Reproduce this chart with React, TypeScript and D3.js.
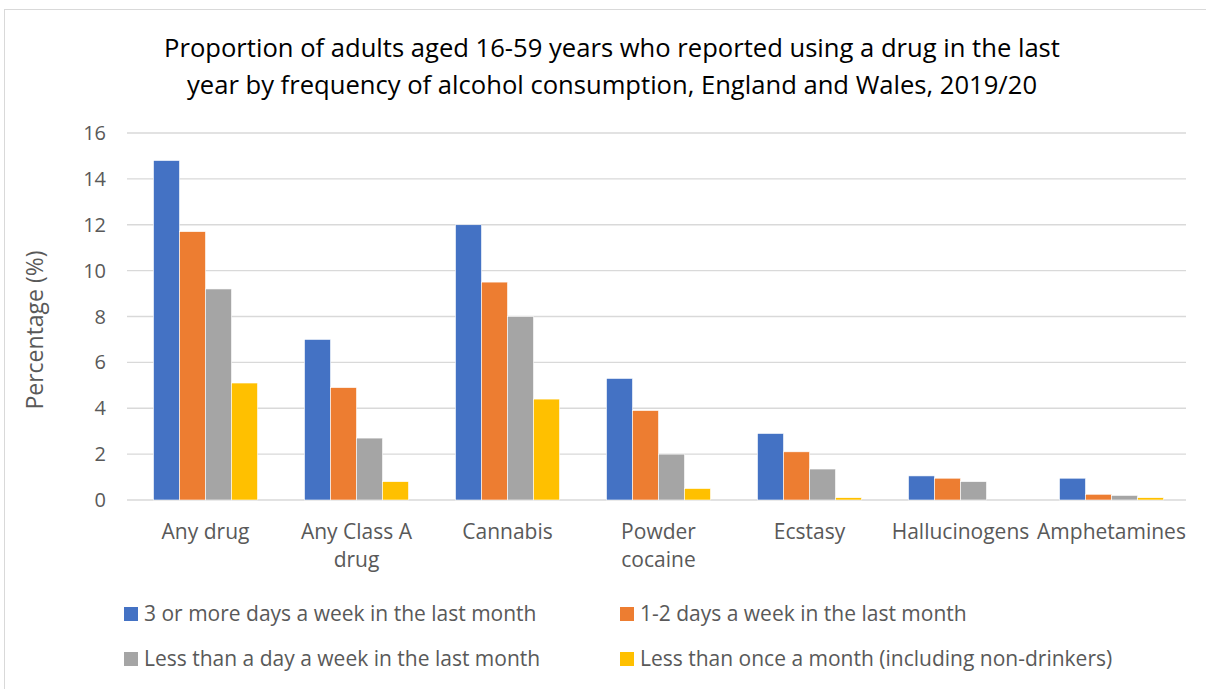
import React from "react";
import * as d3 from "d3";

const categories = [
  ["Any drug"],
  ["Any Class A", "drug"],
  ["Cannabis"],
  ["Powder", "cocaine"],
  ["Ecstasy"],
  ["Hallucinogens"],
  ["Amphetamines"],
];
const seriesNames = [
  "3 or more days a week in the last month",
  "1-2 days a week in the last month",
  "Less than a day a week in the last month",
  "Less than once a month (including non-drinkers)",
];
const seriesColors = ["#4472C4", "#ED7D31", "#A5A5A5", "#FFC000"];
const s1 = [14.8, 7.0, 12.0, 5.3, 2.9, 1.05, 0.95];
const s2 = [11.7, 4.9, 9.5, 3.9, 2.1, 0.95, 0.25];
const s3 = [9.2, 2.7, 8.0, 2.0, 1.35, 0.8, 0.2];
const s4 = [5.1, 0.8, 4.4, 0.5, 0.1, 0, 0.1];
const seriesValues = [s1, s2, s3, s4];
const yTicks = [0, 2, 4, 6, 8, 10, 12, 14, 16];

const W = 1206;
const H = 689;
const font = "'Open Sans', sans-serif";

export default function App() {
  const x = d3
    .scaleBand<number>()
    .domain(categories.map((_, i) => i))
    .range([130, 1187])
    .padding(0);
  const groupW = 104;
  const xs = d3
    .scaleBand<number>()
    .domain(seriesNames.map((_, i) => i))
    .range([0, groupW])
    .padding(0);
  const y = d3.scaleLinear().domain([0, 16]).range([500, 133]);

  return (
    <svg
      width={W}
      height={H}
      style={{ position: "absolute", left: 0, top: 0, display: "block", background: "#fff" }}
    >
      <rect x={4.5} y={9.5} width={1220} height={700} fill="#fff" stroke="#D9D9D9" strokeWidth={1} />
      <text x={612} y={57} textAnchor="middle" fontFamily={font} fontSize={25.6} fill="#000">
        Proportion of adults aged 16-59 years who reported using a drug in the last
      </text>
      <text x={612} y={94} textAnchor="middle" fontFamily={font} fontSize={25.6} fill="#000">
        year by frequency of alcohol consumption, England and Wales, 2019/20
      </text>
      {yTicks.map((t) => (
        <g key={t}>
          <line
            x1={127}
            x2={1186}
            y1={y(t)}
            y2={y(t)}
            stroke="#D9D9D9"
            strokeWidth={t === 0 ? 1.5 : 1.3}
          />
          <text x={106} y={y(t) + 7} textAnchor="end" fontFamily={font} fontSize={20} fill="#595959">
            {t}
          </text>
        </g>
      ))}
      <text
        transform={`translate(43,330) rotate(-90)`}
        textAnchor="middle"
        fontFamily={font}
        fontSize={23}
        fill="#595959"
      >
        Percentage (%)
      </text>
      {categories.map((cat, ci) => {
        const cx = (x(ci) as number) + x.bandwidth() / 2;
        const gx = cx - groupW / 2;
        return (
          <g key={ci}>
            {seriesValues.map((vals, si) => {
              const v = vals[ci];
              if (v <= 0) return null;
              return (
                <rect
                  key={si}
                  x={gx + (xs(si) as number)}
                  y={y(v)}
                  width={xs.bandwidth()}
                  height={y(0) - y(v)}
                  fill={seriesColors[si]}
                  stroke="#fff"
                  strokeWidth={0.6}
                />
              );
            })}
            {cat.map((line, li) => (
              <text
                key={li}
                x={cx}
                y={539 + li * 28}
                textAnchor="middle"
                fontFamily={font}
                fontSize={21}
                fill="#595959"
              >
                {line}
              </text>
            ))}
          </g>
        );
      })}
      {seriesNames.map((name, si) => {
        const col = si % 2;
        const row = Math.floor(si / 2);
        const lx = col === 0 ? 124 : 620;
        const ly = 614 + row * 45;
        return (
          <g key={si}>
            <rect x={lx} y={ly - 7} width={14} height={14} fill={seriesColors[si]} />
            <text x={lx + 20} y={ly + 7} fontFamily={font} fontSize={21} fill="#595959">
              {name}
            </text>
          </g>
        );
      })}
    </svg>
  );
}
